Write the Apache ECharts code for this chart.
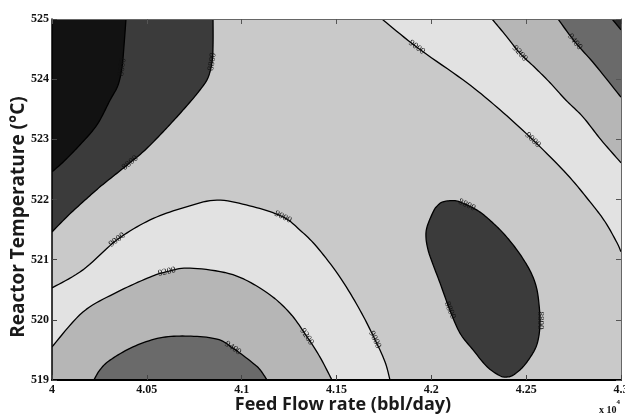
<!DOCTYPE html>
<html>
<head>
<meta charset="utf-8">
<script src="https://cdn.jsdelivr.net/npm/echarts@6/dist/echarts.min.js"></script>
<style>
  html, body { margin: 0; padding: 0; background: #fff; }
  #chart { width: 625px; height: 417px; }
</style>
</head>
<body>
<div id="chart"></div>
<script>
// Axis extents and tick values: feed flow (x 10^4 bbl/day), reactor temperature (°C)
const FLOW_MIN = 4, FLOW_MAX = 4.3, FLOW_STEP = 0.05;
const TEMP_MIN = 519, TEMP_MAX = 525, TEMP_STEP = 1;
const flowTicks = [4, 4.05, 4.1, 4.15, 4.2, 4.25, 4.3];
const tempTicks = [519, 520, 521, 522, 523, 524, 525];

// Contour levels of the response surface
const contourLevels = [8600, 8800, 9000, 9200, 9400, 9600];

// Iso-lines as [feed flow, temperature] vertices
const line8600 = [[4.0390, 525], [4.0380, 524.57], [4.0369, 524.20], [4.0348, 523.90], [4.0306, 523.65],
  [4.0237, 523.24], [4.0148, 522.91], [4.0058, 522.62], [4.0, 522.46]];

const line8800 = [[4.0849, 525], [4.0849, 524.57], [4.0844, 524.29], [4.0822, 524.02], [4.0780, 523.82],
  [4.0728, 523.62], [4.0649, 523.34], [4.0569, 523.07], [4.0490, 522.82], [4.0411, 522.61],
  [4.0332, 522.41], [4.0253, 522.21], [4.0174, 521.99], [4.0084, 521.73], [4.0, 521.46]];

const line8800Island = [[4.2061, 521.96], [4.2125, 521.98], [4.2188, 521.91], [4.2257, 521.79], [4.2325, 521.61],
  [4.2388, 521.41], [4.2452, 521.16], [4.2504, 520.91], [4.2536, 520.71], [4.2557, 520.50],
  [4.2568, 520.25], [4.2573, 519.99], [4.2568, 519.75], [4.2552, 519.55], [4.2520, 519.37],
  [4.2478, 519.20], [4.2431, 519.08], [4.2399, 519.05], [4.2362, 519.07], [4.2294, 519.22],
  [4.2220, 519.50], [4.2151, 519.78], [4.2098, 520.16], [4.2046, 520.61], [4.2004, 520.96],
  [4.1983, 521.16], [4.1972, 521.36], [4.1977, 521.54], [4.2009, 521.79], [4.2030, 521.89]];

const line9000Low = [[4.0, 520.53], [4.0163, 520.83], [4.0343, 521.33], [4.0517, 521.66], [4.0691, 521.86],
  [4.0870, 521.99], [4.1060, 521.88], [4.1218, 521.71], [4.1308, 521.49], [4.1397, 521.21],
  [4.1518, 520.71], [4.1624, 520.16], [4.1703, 519.67], [4.1756, 519.30], [4.1782, 519]];

const line9200Low = [[4.0, 519.55], [4.0163, 520.13], [4.0343, 520.46], [4.0517, 520.71], [4.0606, 520.80],
  [4.0728, 520.86], [4.0954, 520.75], [4.1134, 520.45], [4.1255, 520.11], [4.1344, 519.72],
  [4.1413, 519.38], [4.1476, 519]];

const line9400Low = [[4.0221, 519], [4.0253, 519.17], [4.0306, 519.33], [4.0427, 519.55], [4.0569, 519.70],
  [4.0717, 519.73], [4.0870, 519.68], [4.0954, 519.53], [4.1060, 519.28], [4.1097, 519.17], [4.1134, 519]];

const line9000High = [[4.1740, 525], [4.1924, 524.53], [4.2188, 523.94], [4.2362, 523.49], [4.2536, 522.99],
  [4.2715, 522.42], [4.2837, 521.96], [4.2916, 521.63], [4.2979, 521.28], [4.3, 521.13]];

const line9200High = [[4.2320, 525], [4.2394, 524.72], [4.2467, 524.43], [4.2547, 524.19], [4.2626, 523.94],
  [4.2710, 523.65], [4.2800, 523.37], [4.2895, 522.99], [4.3, 522.61]];

const line9400High = [[4.2668, 525], [4.2757, 524.62], [4.2863, 524.24], [4.3, 523.70]];

const line9600High = [[4.2953, 525], [4.3, 524.82]];

// Vertex indices where each iso-line carries its value label
const labelVertices = {
  line8600: [2], line8800: [2, 9], line8800Island: [2, 11, 22],
  line9000Low: [2, 7, 12], line9200Low: [4, 9], line9400Low: [7],
  line9000High: [1, 4], line9200High: [2], line9400High: [1], line9600High: []
};

// Grey shade for each band between consecutive levels
const bandShade = {
  below8600: '#121212', from8600: '#3b3b3b', from8800: '#c9c9c9',
  from9000: '#e2e2e2', from9200: '#b6b6b6', from9400: '#6a6a6a', above9600: '#2c2c2c'
};

const cornerTL = [FLOW_MIN, TEMP_MAX], cornerBL = [FLOW_MIN, TEMP_MIN], cornerTR = [FLOW_MAX, TEMP_MAX];

// Filled regions, painted back to front over the 8800-9000 background:
// each is an iso-line closed off through a corner of the plot
const fillBands = [
  { line: line8800, corner: cornerTL, color: bandShade.from8600 },
  { line: line8600, corner: cornerTL, color: bandShade.below8600 },
  { line: line9000Low, corner: cornerBL, color: bandShade.from9000 },
  { line: line9200Low, corner: cornerBL, color: bandShade.from9200 },
  { line: line9400Low, corner: null, color: bandShade.from9400 },
  { line: line9000High, corner: cornerTR, color: bandShade.from9000 },
  { line: line9200High, corner: cornerTR, color: bandShade.from9200 },
  { line: line9400High, corner: cornerTR, color: bandShade.from9400 },
  { line: line9600High, corner: cornerTR, color: bandShade.above9600 },
  { line: line8800Island, corner: null, closed: true, color: bandShade.from8600 }
];

const contours = [
  { level: contourLevels[0], pts: line8600, labels: labelVertices.line8600 },
  { level: contourLevels[1], pts: line8800, labels: labelVertices.line8800 },
  { level: contourLevels[1], pts: line8800Island, labels: labelVertices.line8800Island, closed: true },
  { level: contourLevels[2], pts: line9000Low, labels: labelVertices.line9000Low },
  { level: contourLevels[3], pts: line9200Low, labels: labelVertices.line9200Low },
  { level: contourLevels[4], pts: line9400Low, labels: labelVertices.line9400Low },
  { level: contourLevels[2], pts: line9000High, labels: labelVertices.line9000High },
  { level: contourLevels[3], pts: line9200High, labels: labelVertices.line9200High },
  { level: contourLevels[4], pts: line9400High, labels: labelVertices.line9400High },
  { level: contourLevels[5], pts: line9600High, labels: labelVertices.line9600High }
];

// Catmull-Rom smoothing of a projected pixel path, used only for drawing the curves
function smoothPixels(px, closed) {
  const n = px.length;
  if (n < 3) return px.slice();
  const at = i => closed ? px[(i + n) % n] : px[Math.max(0, Math.min(n - 1, i))];
  const segs = closed ? n : n - 1;
  const out = [];
  const steps = 10;
  for (let i = 0; i < segs; i++) {
    const p0 = at(i - 1), p1 = at(i), p2 = at(i + 1), p3 = at(i + 2);
    for (let s = 0; s < steps; s++) {
      const t = s / steps, t2 = t * t, t3 = t2 * t;
      const f = (a, b, c, d) => 0.5 * ((2 * b) + (-a + c) * t + (2 * a - 5 * b + 4 * c - d) * t2 + (-a + 3 * b - 3 * c + d) * t3);
      out.push([f(p0[0], p1[0], p2[0], p3[0]), f(p0[1], p1[1], p2[1], p3[1])]);
    }
  }
  if (!closed) out.push(px[n - 1]);
  return out;
}

const tickFont = { fontFamily: 'Liberation Serif', fontWeight: 'bold', fontSize: 12, color: '#111' };
const titleFamily = '"Open Sans", "Noto Sans", sans-serif';

function fmtTick(v) { return String(+v.toFixed(2)); }

const chart = echarts.init(document.getElementById('chart'), null, { renderer: 'canvas' });

chart.setOption({
  animation: false,
  backgroundColor: '#fff',
  grid: {
    left: 52, right: 4, top: 19, bottom: 37, containLabel: false, outerBoundsMode: 'none',
    show: true, backgroundColor: bandShade.from8800, borderWidth: 0
  },
  xAxis: [
    {
      type: 'value', min: FLOW_MIN, max: FLOW_MAX, interval: FLOW_STEP, position: 'bottom', z: 10,
      axisLine: { lineStyle: { color: '#000', width: 2 } },
      axisTick: { inside: true, length: 5, lineStyle: { color: '#444', width: 1 } },
      axisLabel: Object.assign({ margin: 4, formatter: fmtTick, showMaxLabel: true, hideOverlap: false }, tickFont),
      splitLine: { show: false }
    },
    {
      type: 'value', min: FLOW_MIN, max: FLOW_MAX, interval: FLOW_STEP, position: 'top', z: 10,
      axisLine: { lineStyle: { color: '#666', width: 1 } },
      axisTick: { inside: true, length: 5, lineStyle: { color: '#555', width: 1 } },
      axisLabel: { show: false }, splitLine: { show: false }
    }
  ],
  yAxis: [
    {
      type: 'value', min: TEMP_MIN, max: TEMP_MAX, interval: TEMP_STEP, position: 'left', z: 10,
      axisLine: { lineStyle: { color: '#000', width: 1.5 } },
      axisTick: { inside: true, length: 5, lineStyle: { color: '#444', width: 1 } },
      axisLabel: Object.assign({ margin: 3, formatter: fmtTick }, tickFont),
      splitLine: { show: false }
    },
    {
      type: 'value', min: TEMP_MIN, max: TEMP_MAX, interval: TEMP_STEP, position: 'right', z: 10,
      axisLine: { lineStyle: { color: '#666', width: 1 } },
      axisTick: { inside: true, length: 5, lineStyle: { color: '#555', width: 1 } },
      axisLabel: { show: false }, splitLine: { show: false }
    }
  ],
  graphic: [
    {
      type: 'text', x: 343, y: 405,
      style: {
        text: 'Feed Flow rate (bbl/day)', font: 'bold 18px ' + titleFamily, fill: '#1a1a1a',
        align: 'center', verticalAlign: 'middle'
      }
    },
    {
      type: 'text', x: 19, y: 217, rotation: Math.PI / 2,
      style: {
        text: 'Reactor Temperature (°C)', font: 'bold 19px ' + titleFamily, fill: '#1a1a1a',
        align: 'center', verticalAlign: 'middle'
      }
    },
    {
      type: 'text', left: 599, top: 399,
      style: {
        text: '{b|x 10}{s|4}',
        rich: {
          b: { fontFamily: 'Liberation Serif', fontWeight: 'bold', fontSize: 10, fill: '#111', padding: [6, 0, 0, 0] },
          s: { fontFamily: 'Liberation Serif', fontWeight: 'bold', fontSize: 7, fill: '#111', verticalAlign: 'top' }
        }
      }
    }
  ],
  series: [
    {
      type: 'custom', name: 'bands', coordinateSystem: 'cartesian2d', xAxisIndex: 0, yAxisIndex: 0,
      silent: true, clip: true, z: 1,
      encode: { x: 0, y: 1 },
      data: fillBands.map((b, i) => [b.line[0][0], b.line[0][1], i]),
      renderItem: function (params, api) {
        const band = fillBands[api.value(2)];
        let pts = smoothPixels(band.line.map(p => api.coord(p)), !!band.closed);
        if (band.corner) pts = pts.concat([api.coord(band.corner)]);
        return {
          type: 'polygon',
          shape: { points: pts },
          style: { fill: band.color, stroke: null }
        };
      }
    },
    {
      type: 'custom', name: 'isolines', coordinateSystem: 'cartesian2d', xAxisIndex: 0, yAxisIndex: 0,
      silent: true, clip: true, z: 3,
      encode: { x: 0, y: 1 },
      data: contours.map((c, i) => [c.pts[0][0], c.pts[0][1], i]),
      renderItem: function (params, api) {
        const c = contours[api.value(2)];
        const px = c.pts.map(p => api.coord(p));
        let path = smoothPixels(px, !!c.closed);
        if (c.closed) path = path.concat([path[0]]);
        const children = [{
          type: 'polyline', shape: { points: path },
          style: { stroke: '#000', lineWidth: 1.3, fill: null, lineJoin: 'round' }
        }];
        c.labels.forEach(k => {
          const a = px[Math.max(0, k - 1)], b = px[Math.min(px.length - 1, k + 1)];
          let ang = Math.atan2(b[1] - a[1], b[0] - a[0]);
          if (ang > Math.PI / 2) ang -= Math.PI;
          if (ang < -Math.PI / 2) ang += Math.PI;
          children.push({
            type: 'text', x: px[k][0], y: px[k][1], rotation: -ang,
            style: {
              text: String(c.level), fill: '#111', font: '9px "Liberation Serif"',
              align: 'center', verticalAlign: 'middle'
            }
          });
        });
        return { type: 'group', children: children };
      }
    }
  ]
});
</script>
</body>
</html>
